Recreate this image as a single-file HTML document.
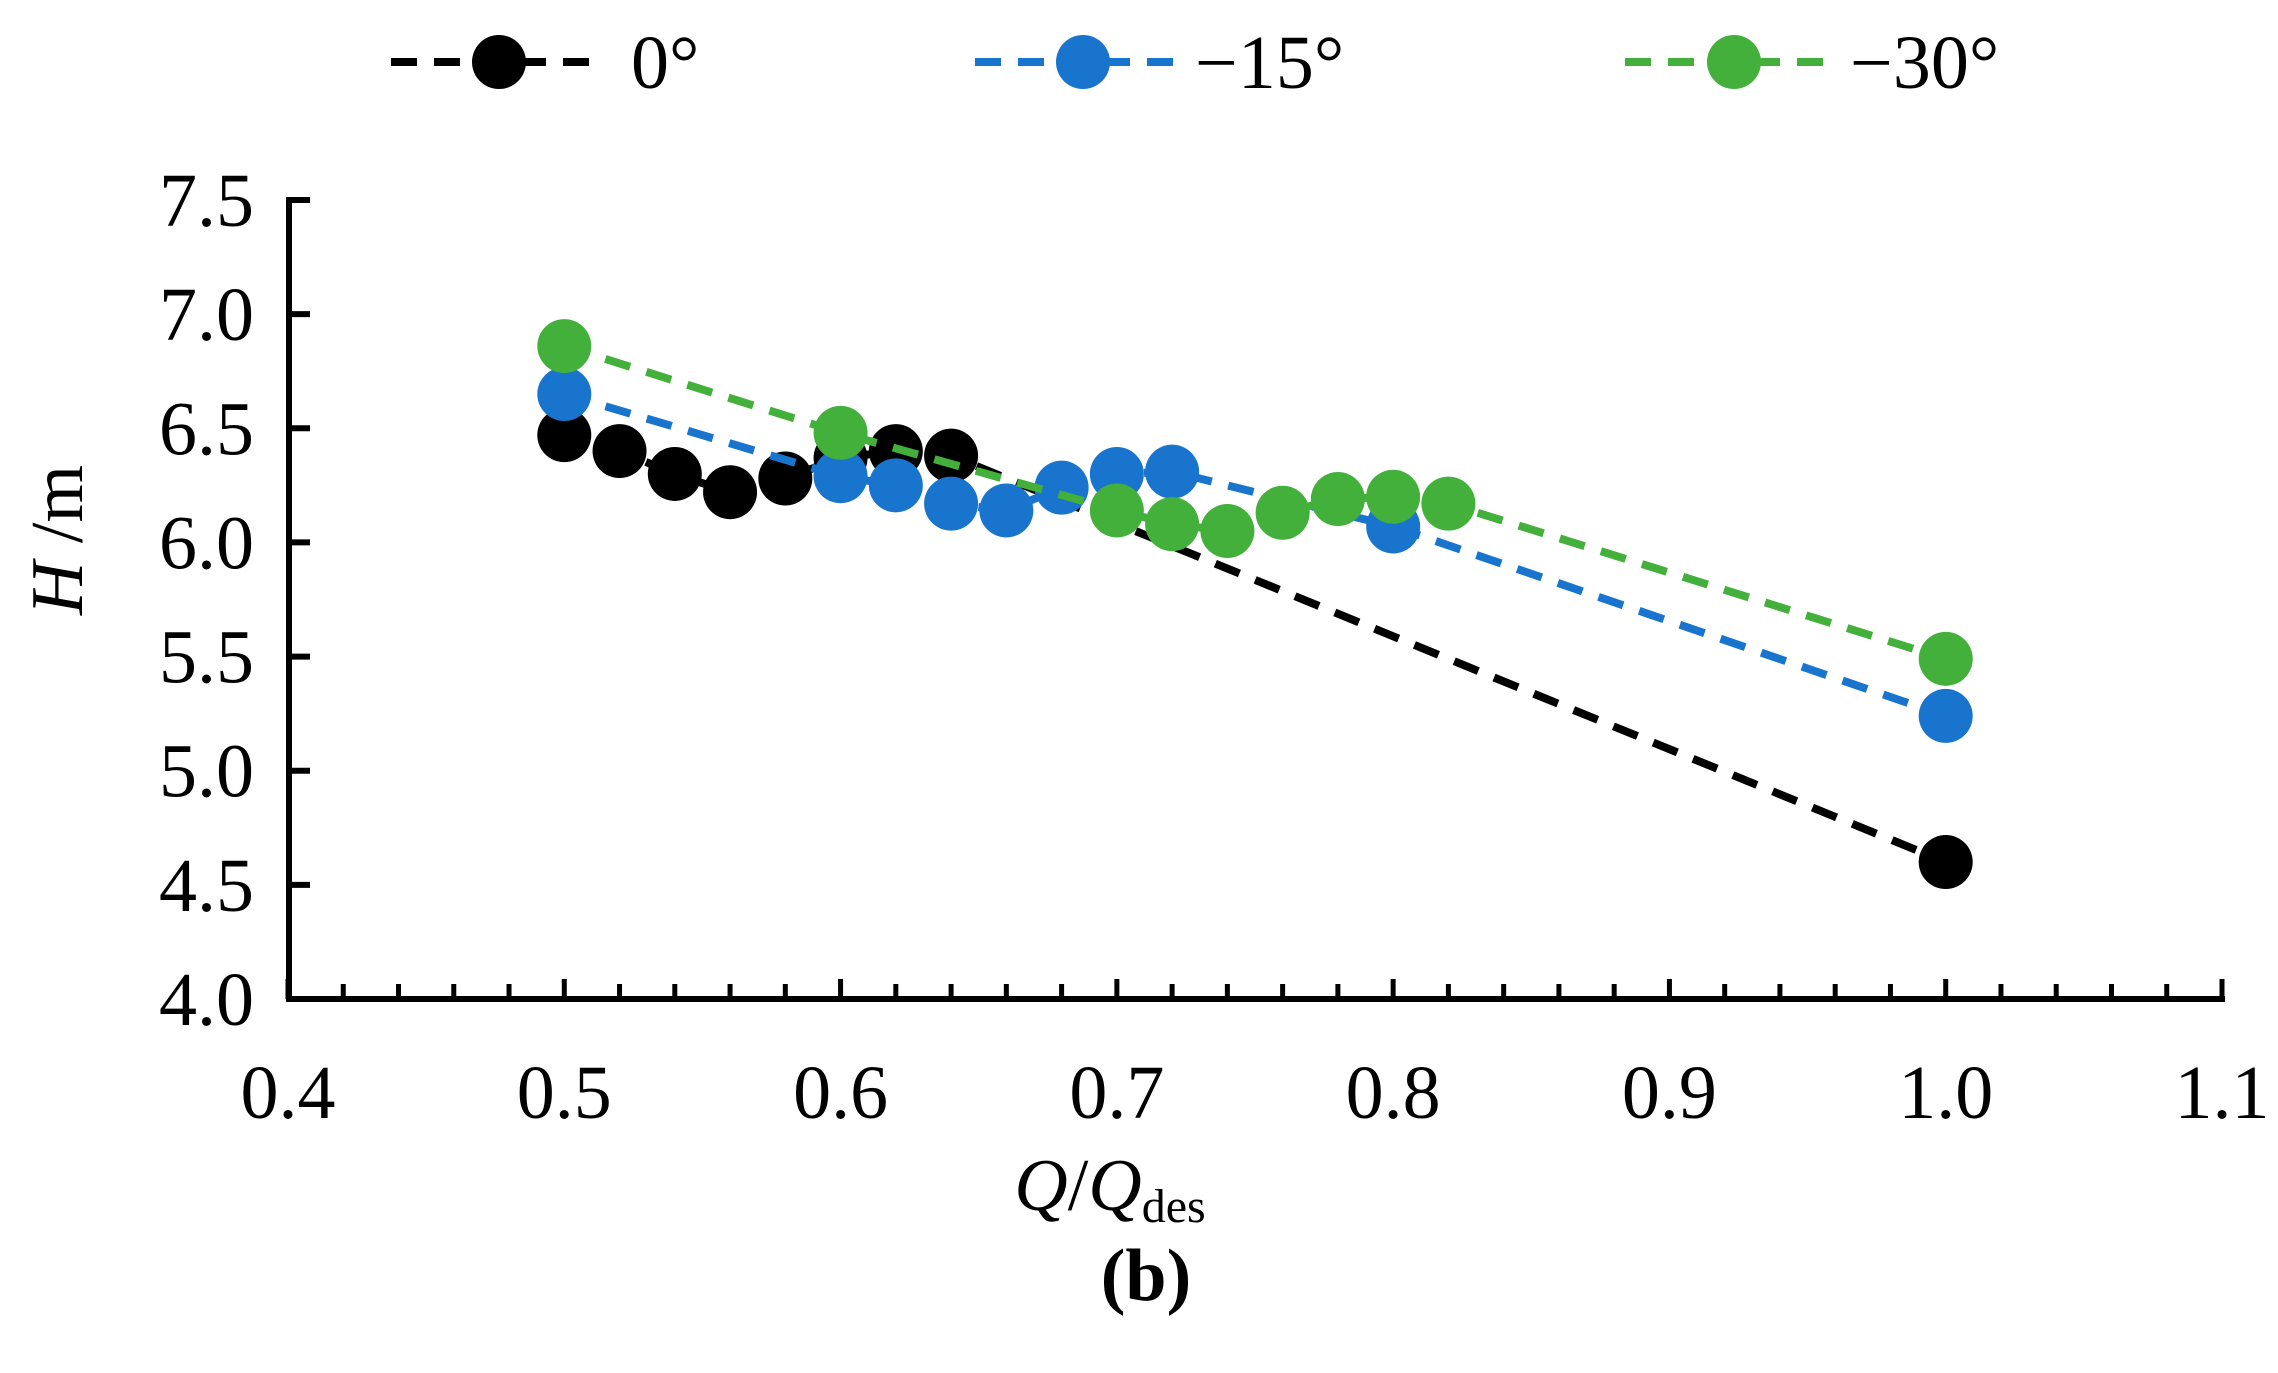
<!DOCTYPE html>
<html><head><meta charset="utf-8"><style>
html,body{margin:0;padding:0;background:#fff}
svg{display:block}
text{font-family:"Liberation Serif",serif;fill:#000}
</style></head><body>
<svg id="chart" width="2278" height="1373" viewBox="0 0 2278 1373" xmlns="http://www.w3.org/2000/svg">
<g id="legend"></g>
<g id="axes"></g>
<g id="series"></g>
<text transform="translate(82,540) rotate(-90)" text-anchor="middle" font-size="74"><tspan font-style="italic">H</tspan> /m</text>
<text x="1110" y="1210" text-anchor="middle" font-size="74"><tspan font-style="italic">Q</tspan>/<tspan font-style="italic">Q</tspan><tspan font-size="48" dy="12">des</tspan></text>
<text x="1146" y="1300" text-anchor="middle" font-size="74" font-weight="bold">(b)</text>
</svg>
<script>
const xTicks = [0.4,0.5,0.6,0.7,0.8,0.9,1.0,1.1];
const yTicks = [4.0,4.5,5.0,5.5,6.0,6.5,7.0,7.5];
const seriesNames = ["0°","−15°","−30°"];
const x0 = [0.5,0.52,0.54,0.56,0.58,0.6,0.62,0.64,1.0];
const y0 = [6.47,6.40,6.30,6.22,6.28,6.37,6.40,6.38,4.60];
const x15 = [0.5,0.6,0.62,0.64,0.66,0.68,0.7,0.72,0.8,1.0];
const y15 = [6.65,6.29,6.25,6.17,6.14,6.24,6.30,6.31,6.07,5.24];
const x30 = [0.5,0.6,0.7,0.72,0.74,0.76,0.78,0.8,0.82,1.0];
const y30 = [6.86,6.48,6.14,6.08,6.05,6.13,6.19,6.20,6.17,5.49];
const colors = ["#000000","#1874cd","#44b03c"];

const NS="http://www.w3.org/2000/svg";
const X = v => 288 + (v-0.4)/0.7*(2222-288);
const Y = v => 999 - (v-4.0)/3.5*(999-200);
function mk(tag, attrs, parent){const e=document.createElementNS(NS,tag);for(const k in attrs)e.setAttribute(k,attrs[k]);parent.appendChild(e);return e;}
const axes=document.getElementById('axes');
const yb=Y(4.0);
const ax=mk('path',{d:`M289,${Y(7.5)-3} L289,${yb} L2225,${yb}`,fill:'none',stroke:'#000','stroke-width':6},axes);


yTicks.forEach(t=>{
  const l=mk('line',{x1:289,x2:310,y1:Y(t),y2:Y(t),stroke:'#000','stroke-width':6},axes);
  
  
  const tx=mk('text',{x:254,y:Y(t)+26,'text-anchor':'end','font-size':76},axes);
  tx.textContent=t.toFixed(1);
  
  
});
for(let i=0;i<=35;i++){
  const v=0.4+i*0.02;
  const major=i%5===0;
  const l=mk('line',{x1:X(v),x2:X(v),y1:yb,y2:yb-(major?20:15),stroke:'#000','stroke-width':5},axes);
  
  
}
xTicks.forEach(t=>{
  const tx=mk('text',{x:X(t),y:1118,'text-anchor':'middle','font-size':76},axes);
  tx.textContent=t.toFixed(1);
  
  
});
const ser=document.getElementById('series');
[[x0,y0],[x15,y15],[x30,y30]].forEach((s,si)=>{
  const g=mk('g',{},ser);
  
  
  const pts=s[0].map((x,i)=>X(x)+','+Y(s[1][i])).join(' ');
  const pl=mk('polyline',{points:pts,fill:'none',stroke:colors[si],'stroke-width':8,'stroke-dasharray':'26,17'},g);
  
  
  s[0].forEach((x,i)=>{
    const c=mk('circle',{cx:X(x),cy:Y(s[1][i]),r:27,fill:colors[si]},g);
    
    
  });
});
const leg=document.getElementById('legend');
const legX=[[391,599,499,631],[975,1183,1083,1195],[1625,1832,1734,1850]];
seriesNames.forEach((n,i)=>{
  const g=mk('g',{},leg);
  
  
  const p=legX[i];
  mk('line',{x1:p[0],x2:p[1],y1:62,y2:62,stroke:colors[i],'stroke-width':8,'stroke-dasharray':'26,17'},g);
  mk('circle',{cx:p[2],cy:62,r:27,fill:colors[i]},g);
  const t=mk('text',{x:p[3],y:88,'font-size':76},g);
  t.textContent=n;
});
</script>
</body></html>
